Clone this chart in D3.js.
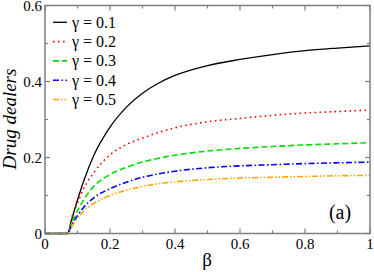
<!DOCTYPE html>
<html>
<head>
<meta charset="utf-8">
<style>
body { margin: 0; background: #fff; }
.frame { fill: none; stroke: #7f7f7f; stroke-width: 1.5px; }
.tick { stroke: #7f7f7f; stroke-width: 1.2px; }
</style>
</head>
<body>
<svg width="374" height="272"></svg>
<script src="https://cdn.jsdelivr.net/npm/d3@7"></script>
<script>

// beta values sampled along the x axis
var beta = [0, 0.07, 0.08, 0.09, 0.1, 0.12, 0.15, 0.2, 0.25, 0.3, 0.35, 0.4, 0.5, 0.6, 0.7, 0.8, 0.9, 1.0];

// drug dealers fraction for each gamma
var g01 = [0, 0, 0.03, 0.06, 0.088, 0.14, 0.205, 0.28, 0.332, 0.369, 0.396, 0.416, 0.442, 0.458, 0.471, 0.481, 0.488, 0.494];
var g02 = [0, 0, 0.035, 0.06, 0.08, 0.12, 0.16, 0.207, 0.234, 0.251, 0.266, 0.278, 0.294, 0.303, 0.311, 0.317, 0.321, 0.325];
var g03 = [0, 0, 0.022, 0.043, 0.06, 0.09, 0.124, 0.155, 0.174, 0.188, 0.198, 0.206, 0.217, 0.224, 0.229, 0.233, 0.236, 0.239];
var g04 = [0, 0, 0.018, 0.034, 0.047, 0.07, 0.094, 0.118, 0.135, 0.148, 0.157, 0.164, 0.173, 0.178, 0.181, 0.184, 0.186, 0.188];
var g05 = [0, 0, 0.014, 0.028, 0.04, 0.06, 0.079, 0.1, 0.114, 0.124, 0.131, 0.136, 0.142, 0.146, 0.148, 0.150, 0.152, 0.153];

var seriesNames = ["γ = 0.1", "γ = 0.2", "γ = 0.3", "γ = 0.4", "γ = 0.5"];
var seriesValues = [g01, g02, g03, g04, g05];
var colors = ["#000000", "#ff0000", "#00dd00", "#0000ff", "#ffa500"];
var dashes = [null, "1.6,3.4", "6,3", "6,2.5,1.5,2.5", "6,2,1.5,2,1.5,2"];

var xTicks = [0, 0.2, 0.4, 0.6, 0.8, 1];
var yTicks = [0, 0.2, 0.4, 0.6];

var serif = "font-family: 'Liberation Serif', Tinos, 'Times New Roman', 'DejaVu Serif', serif;";

var svg = d3.select("svg");
var mLeft = 45, mRight = 370, mTop = 5.5, mBottom = 233.5;

var x = d3.scaleLinear().domain([0, 1]).range([mLeft, mRight]);
var y = d3.scaleLinear().domain([0, 0.6]).range([mBottom, mTop]);

var line = d3.line()
    .x(function(d, i) { return x(beta[i]); })
    .y(function(d) { return y(d); })
    .curve(d3.curveMonotoneX);

// curves (drawn first, frame on top)
svg.append("g")
  .selectAll("path")
  .data(seriesValues)
  .enter().append("path")
    .attr("d", line)
    .attr("fill", "none")
    .attr("stroke", function(d, i) { return colors[i]; })
    .attr("stroke-width", function(d, i) { return i == 0 ? 1.3 : 1.6; })
    .attr("stroke-dasharray", function(d, i) { return dashes[i]; });

// frame
svg.append("rect").attr("class", "frame")
    .attr("x", mLeft).attr("y", mTop)
    .attr("width", mRight - mLeft).attr("height", mBottom - mTop);

// ticks, inward on all four sides
var ticks = svg.append("g");
d3.range(0, 1.0001, 0.1).forEach(function(v, i) {
  var len = i % 2 == 0 ? 5 : 3;
  ticks.append("line").attr("class", "tick")
      .attr("x1", x(v)).attr("x2", x(v)).attr("y1", mBottom).attr("y2", mBottom - len);
  ticks.append("line").attr("class", "tick")
      .attr("x1", x(v)).attr("x2", x(v)).attr("y1", mTop).attr("y2", mTop + len);
});
d3.range(0, 0.6001, 0.1).forEach(function(v, i) {
  var len = i % 2 == 0 ? 5 : 3;
  ticks.append("line").attr("class", "tick")
      .attr("x1", mLeft).attr("x2", mLeft + len).attr("y1", y(v)).attr("y2", y(v));
  ticks.append("line").attr("class", "tick")
      .attr("x1", mRight).attr("x2", mRight - len).attr("y1", y(v)).attr("y2", y(v));
});

// tick labels
svg.append("g").selectAll("text")
  .data(xTicks)
  .enter().append("text")
    .attr("x", function(d) { return x(d); })
    .attr("y", 249)
    .attr("text-anchor", "middle")
    .attr("style", serif + " font-size: 15px;")
    .text(function(d) { return d == 0 || d == 1 ? d : d.toFixed(1); });

svg.append("g").selectAll("text")
  .data(yTicks)
  .enter().append("text")
    .attr("x", 42)
    .attr("y", function(d) { return y(d) + 5; })
    .attr("text-anchor", "end")
    .attr("style", serif + " font-size: 15px;")
    .text(function(d) { return d == 0 ? "0" : d.toFixed(1); });

// axis titles
svg.append("text")
    .attr("x", 207).attr("y", 266)
    .attr("text-anchor", "middle")
    .attr("style", serif + " font-size: 19px;")
    .text("β");

svg.append("text")
    .attr("transform", "translate(16,119) rotate(-90)")
    .attr("text-anchor", "middle")
    .attr("style", serif + " font-size: 19px; font-style: italic;")
    .text("Drug dealers");

svg.append("text")
    .attr("x", 340).attr("y", 219)
    .attr("text-anchor", "middle")
    .attr("style", serif + " font-size: 20px;")
    .text("(a)");

// legend
var legend = svg.append("g").selectAll("g")
  .data(seriesNames)
  .enter().append("g")
    .attr("transform", function(d, i) { return "translate(0," + (22.3 + i * 19.3) + ")"; });

legend.append("line")
    .attr("x1", 53).attr("x2", 67).attr("y1", 0).attr("y2", 0)
    .attr("stroke", function(d, i) { return colors[i]; })
    .attr("stroke-width", function(d, i) { return i == 0 ? 1.3 : 1.6; })
    .attr("stroke-dasharray", function(d, i) { return dashes[i]; });

legend.append("text")
    .attr("x", 72).attr("y", 5.5)
    .attr("style", serif + " font-size: 16px;")
    .text(function(d) { return d; });

</script>
</body>
</html>
